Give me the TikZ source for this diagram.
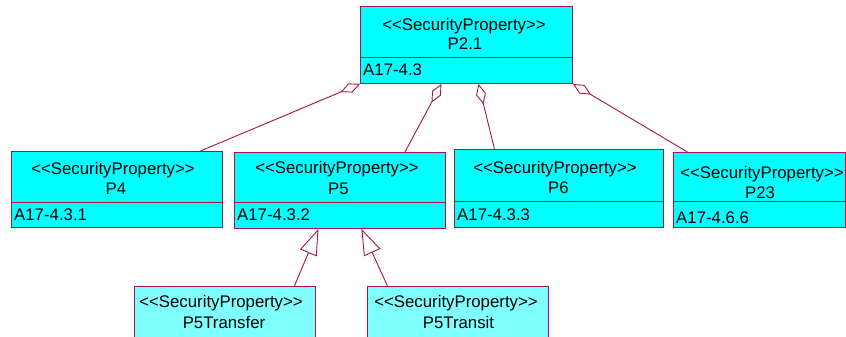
\documentclass[tikz,border=0pt]{standalone}
\usepackage{fontspec}
\setmainfont{Liberation Sans}[Ligatures=TeXOff]
\usetikzlibrary{arrows.meta}
\definecolor{umlline}{RGB}{165,20,70}
\definecolor{umlfill}{RGB}{0,255,255}
\definecolor{umlfilllight}{RGB}{128,255,255}
\tikzset{
  classbox/.style={draw=umlline, fill=umlfill, line width=0.9pt, inner sep=0pt, anchor=north west},
  lightbox/.style={classbox, fill=umlfilllight},
  divider/.style={draw=umlline, line width=0.9pt},
  txt/.style={font=\fontsize{16.8}{20}\selectfont, inner sep=0pt, anchor=base},
  attr/.style={txt, anchor=base west},
  agg/.style={draw=umlline, line width=0.9pt, -{Diamond[open, length=21pt, width=10pt]}},
  gen/.style={draw=umlline, line width=0.9pt, -{Triangle[open, length=26pt, width=18pt]}},
}
\begin{document}
\begin{tikzpicture}[x=1pt, y=-1pt]
\clip (0,0) rectangle (846,337);

% class boxes
\node[classbox, minimum width=212pt, minimum height=77pt] (p21) at (360,6) {};
\node[classbox, minimum width=211pt, minimum height=76pt] (p4) at (11,151) {};
\node[classbox, minimum width=211pt, minimum height=76pt] (p5) at (234,152) {};
\node[classbox, minimum width=209pt, minimum height=78pt] (p6) at (454,149) {};
\node[classbox, minimum width=172pt, minimum height=75pt] (p23) at (673,152) {};
\node[lightbox, minimum width=181pt, minimum height=60pt] (p5tf) at (134,286) {};
\node[lightbox, minimum width=181pt, minimum height=60pt] (p5ts) at (367,286) {};

% attribute compartments
\draw[divider] (p21.west |- 0,57) -- (p21.east |- 0,57);
\draw[divider] (p4.west |- 0,202) -- (p4.east |- 0,202);
\draw[divider] (p5.west |- 0,202) -- (p5.east |- 0,202);
\draw[divider] (p6.west |- 0,201) -- (p6.east |- 0,201);
\draw[divider] (p23.west |- 0,201) -- (p23.east |- 0,201);

% texts
\node[txt] (p21s) at (464,31) {<<SecurityProperty>>};
\node[txt] (p21n) at (465,49) {P2.1};
\node[attr] (p21a) at (363,75) {A17-4.3};

\node[txt] (p4s) at (113,174) {<<SecurityProperty>>};
\node[txt] (p4n) at (116,194) {P4};
\node[attr] (p4a) at (14,220) {A17-4.3.1};

\node[txt] (p5s) at (337,173) {<<SecurityProperty>>};
\node[txt] (p5n) at (338.5,194) {P5};
\node[attr] (p5a) at (237,220) {A17-4.3.2};

\node[txt] (p6s) at (555,173) {<<SecurityProperty>>};
\node[txt] (p6n) at (558.5,193) {P6};
\node[attr] (p6a) at (457,220) {A17-4.3.3};

\node[txt] (p23s) at (762,178) {<<SecurityProperty>>};
\node[txt] (p23n) at (760,198) {P23};
\node[attr] (p23a) at (676,223) {A17-4.6.6};

\node[txt] (p5tfs) at (221,307) {<<SecurityProperty>>};
\node[txt] (p5tfn) at (224,328) {P5Transfer};

\node[txt] (p5tss) at (456,307) {<<SecurityProperty>>};
\node[txt] (p5tsn) at (458.5,328) {P5Transit};

% aggregations
\draw[agg] ([xshift=83.5pt]p4.north) -- (p21.south west);
\draw[agg] ([xshift=65pt]p5.north) -- ([xshift=-25pt]p21.south);
\draw[agg] ([xshift=-64.5pt]p6.north) -- ([xshift=12pt]p21.south);
\draw[agg] ([xshift=-72pt]p23.north) -- (p21.south east);

% generalizations
\draw[gen] ([xshift=69.5pt]p5tf.north) -- ([xshift=-21.5pt]p5.south);
\draw[gen] ([xshift=-70.5pt]p5ts.north) -- ([xshift=21.5pt]p5.south);
\end{tikzpicture}
\end{document}
